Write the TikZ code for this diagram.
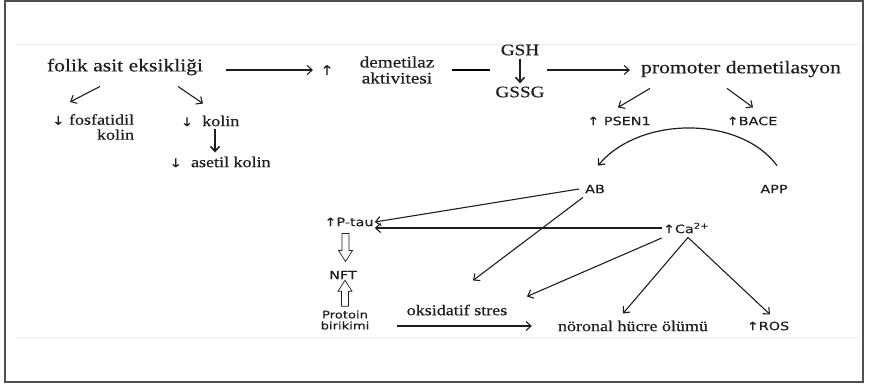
\documentclass[tikz,border=0pt]{standalone}
\usepackage{fontspec}
\setmainfont[FakeStretch=1.2,FakeBold=0.5]{Liberation Serif}
\newfontfamily\verd[FakeStretch=1.25,FakeBold=0.4]{DejaVu Sans}
\usepackage{tikz}
\usetikzlibrary{arrows.meta,positioning,calc}
\definecolor{Ink}{RGB}{30,30,30}
\definecolor{Frame}{RGB}{80,80,80}

\begin{document}
\begin{tikzpicture}[x=1pt,y=1pt,>={Straight Barb[length=5pt,width=9pt]},
  every node/.style={inner sep=1pt,text=Ink},
  big/.style={font=\fontsize{18}{20}\selectfont},
  mid/.style={font=\fontsize{16}{16}\selectfont,align=center},
  small/.style={font=\fontsize{15}{15}\selectfont},
  sans/.style={font=\verd\fontsize{11.5}{12}\selectfont},
  link/.style={draw=Ink,line width=1.1pt,->},
  hollow/.style={draw=Ink,line width=0.7pt,line join=miter,fill=white}]
  \useasboundingbox (0,0) rectangle (869,384);
  \draw[line width=2pt,draw=Frame] (4.5,2.5) rectangle (862.5,382.5);
  \draw[black!7,line width=1pt] (16,340) -- (861,340);
  \draw[black!7,line width=1pt] (16,47) -- (861,47);
  % top row
  \node[big] (folik) at (125,317) {folik asit eksikliği};
  \node[mid] (upd) at (327,314) {{\verd\fontsize{13}{13}\selectfont ↑}};
  \node[mid] (demet) at (397,314) {demetilaz\\aktivitesi};
  \node[mid] (gsh) at (520,334) {GSH};
  \node[mid] (gssg) at (520,292) {GSSG};
  \coordinate (gmid) at (520,314);
  \node[big] (prom) at (741,315) {promoter demetilasyon};
  % left branch
  \node[small,align=right] (fosf) at (93,257) {{\verd\fontsize{12}{12}\selectfont ↓} fosfatidil\\kolin};
  \node[small] (kolin) at (210,263) {{\verd\fontsize{12}{12}\selectfont ↓}\ \ kolin};
  \node[small] (aset) at (220,222) {{\verd\fontsize{12}{12}\selectfont ↓}\ \ asetil kolin};
  % right branch
  \node[sans] (psen) at (619,263) {↑ PSEN1};
  \node[sans] (bace) at (752,263) {↑BACE};
  \node[sans] (ab) at (595,195) {AB};
  \node[sans] (app) at (774,195) {APP};
  \node[sans] (ca) at (686,156) {↑Ca\textsuperscript{2+}};
  \node[sans] (ptau) at (349,162) {↑P-tau};
  \node[sans] (nft) at (343,109) {NFT};
  \node[sans,align=center,font=\verd\fontsize{10.5}{11}\selectfont] (prot) at (345,64) {Protoin\\birikimi};
  \node[small] (oks) at (457,74) {oksidatif stres};
  \node[small] (noron) at (633,58) {nöronal hücre ölümü};
  \node[sans] (ros) at (768,58) {↑ROS};
  % connectors
  \draw[link,shorten <=22pt,shorten >=6pt] (folik.east |- upd) -- (upd.west);
  \draw[line width=1.1pt,shorten <=16pt,shorten >=30pt] (demet.east |- gmid) -- (gmid);
  \draw[link,line width=1.6pt,shorten <=2pt,shorten >=2pt] (gsh) -- (gssg);
  \draw[link,shorten <=27pt,shorten >=10pt] (gmid) -- (gmid -| prom.west);
  \draw[link] ($(folik.south)+(-25,-10)$) -- ($(fosf.north)+(-23,11)$);
  \draw[link] ($(folik.south)+(53,-10)$) -- ($(kolin.north)+(-7,11)$);
  \draw[link,line width=1.6pt] ($(kolin.south)+(5,-2)$) -- ($(aset.north)+(-5,3)$);
  \draw[link] ($(prom.south)+(-91,-10)$) -- ($(psen.north)+(-1,8)$);
  \draw[link] ($(prom.south)+(-14,-10)$) -- ($(bace.north)+(1,8)$);
  \draw[link,line width=1.2pt] ($(app.north)+(3,18)$) .. controls +(-37,50) and +(42,50) .. ($(ab.north)+(3,18)$);
  \draw[link] ($(ab.west)+(-5,0)$) -- (ptau.east);
  \draw[link] (ca.west) -- (ptau.east |- ca.west);
  \draw[link] ($(ab.south)+(-12,-3)$) -- ($(oks.north)+(16,23)$);
  \draw[link] ($(ca.west)+(0,-10)$) -- ($(oks.north)+(70,7)$);
  \draw[link] ($(ca.south)+(2,-3)$) -- ($(noron.north)+(-10,6)$);
  \draw[link] ($(ca.south)+(2,-3)$) -- ($(ros.north)+(2,6)$);
  \draw[link,shorten <=26pt,shorten >=25pt] (prot.east |- noron.west) -- (noron.west);
  % hollow arrows to NFT
  \draw[hollow] ($(ptau.south)+(-7,-6)$) -- ++(7,0) -- ++(0,-17) -- ++(3.5,0)
    -- ++(-7,-11) -- ++(-7,11) -- ++(3.5,0) -- cycle;
  \draw[hollow] ($(prot.north)+(-3.5,3)$) -- ++(7,0) -- ++(0,15) -- ++(3.5,0)
    -- ++(-7,11) -- ++(-7,-11) -- ++(3.5,0) -- cycle;
\end{tikzpicture}
\end{document}
